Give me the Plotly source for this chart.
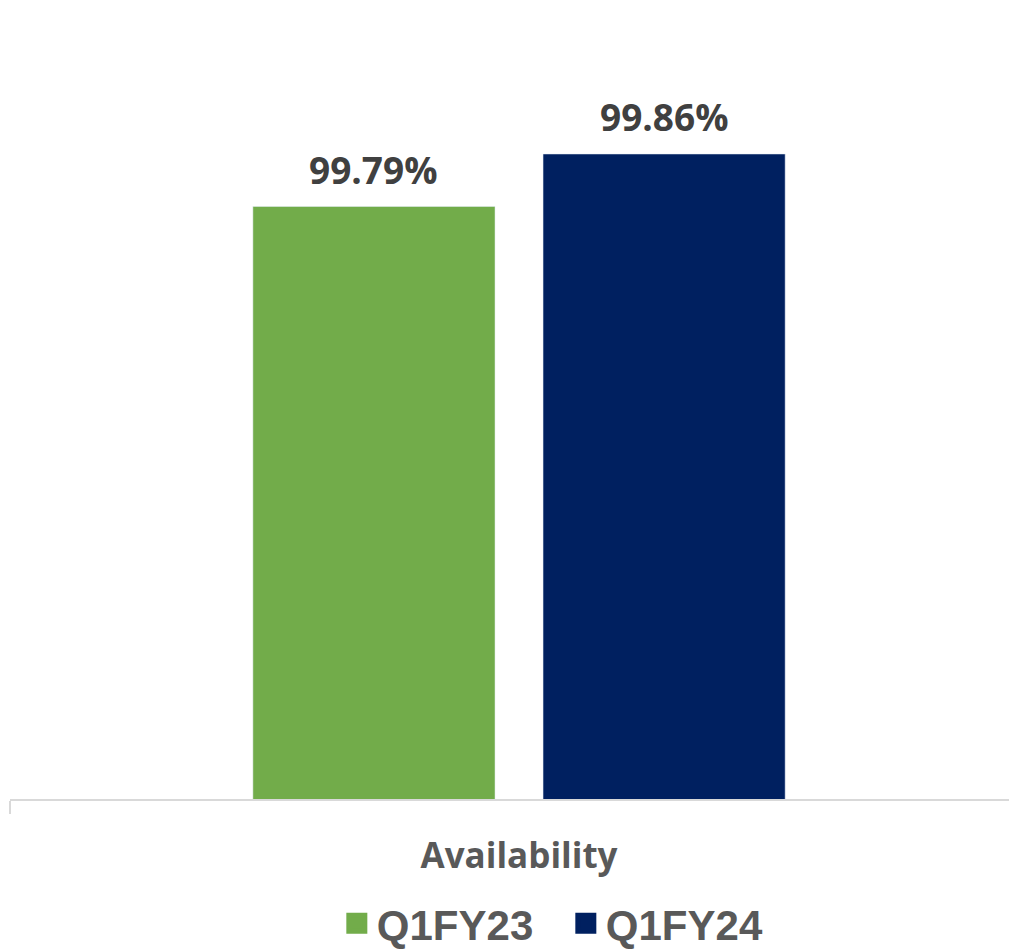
import plotly.graph_objects as go

categories = ["Availability"]
series_names = ["Q1FY23", "Q1FY24"]
series_values = [[99.79], [99.86]]
series_colors = ["#72AC4A", "#002060"]
y_min, y_max = 99.0, 100.0

bargap = 0.43
bargroupgap = 0.1655

fig = go.Figure()
for name, vals, col in zip(series_names, series_values, series_colors):
    fig.add_trace(go.Bar(x=categories, y=vals, name=name, marker_color=col,
                         showlegend=False))
    fig.add_trace(go.Scatter(x=[None], y=[None], mode="markers", name=name,
                             marker=dict(symbol="square", size=16, color=col,
                                         line=dict(color=col, width=5))))

# data labels
slot = (1 - bargap) / len(series_names)
annotations = []
for i, (vals, name) in enumerate(zip(series_values, series_names)):
    off = -(1 - bargap) / 2 + slot * (i + 0.5)
    for j, v in enumerate(vals):
        annotations.append(dict(x=j + off, y=v, xref="x", yref="y",
                                text=f"{v:.2f}%", showarrow=False,
                                yanchor="bottom", yshift=10,
                                font=dict(family="Open Sans", size=37, color="#404040", weight="bold")))

fig.update_layout(
    width=1017, height=949,
    margin=dict(l=2, r=0, t=41, b=158, autoexpand=False),
    plot_bgcolor="white", paper_bgcolor="white",
    barmode="group", bargap=bargap, bargroupgap=bargroupgap,
    annotations=annotations,
    showlegend=True,
    legend=dict(orientation="h", x=0.322, xanchor="left", y=-0.166, yanchor="middle",
                font=dict(family="Arial", size=42, color="#595959", weight="bold"),
                itemsizing="trace", tracegroupgap=0, entrywidth=184),
    xaxis=dict(range=[-0.5, 0.497], showline=True, linecolor="#D9D9D9", linewidth=2,
               ticks="outside", tickson="boundaries", ticklen=13, tickcolor="#D9D9D9", tickwidth=2,
               tickfont=dict(family="Open Sans", size=35, color="#595959", weight="bold"),
               ticklabelstandoff=25,
               showgrid=False, zeroline=False, fixedrange=True, automargin=False),
    yaxis=dict(range=[y_min, y_max], visible=False, showgrid=False, zeroline=False, automargin=False),
)
fig.update_traces(cliponaxis=False, selector=dict(type="bar"))

fig.write_html("out.html")
